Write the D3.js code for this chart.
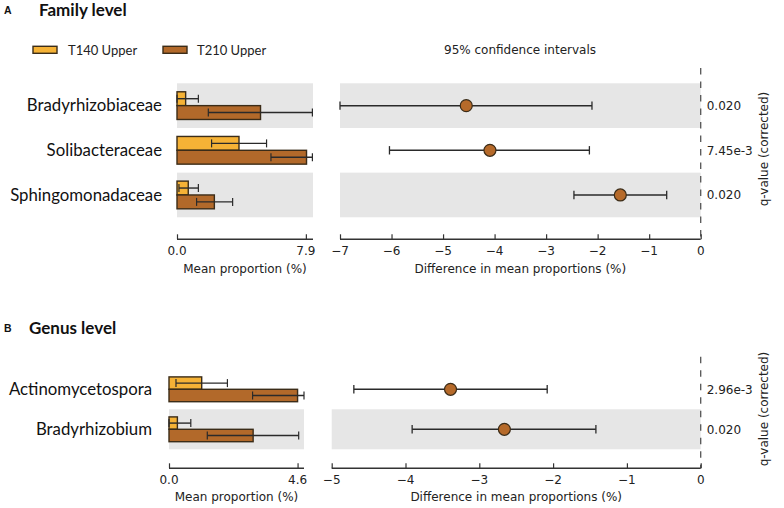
<!DOCTYPE html>
<html><head><meta charset="utf-8">
<script src="https://cdn.jsdelivr.net/npm/d3@7"></script>
<style>
html,body{margin:0;padding:0;background:#fff;}
svg{display:block;}
</style></head>
<body>
<script>
// ---------- DATA ----------
const seriesNames = ["T140 Upper", "T210 Upper"];

const familyCategories = ["Bradyrhizobiaceae", "Solibacteraceae", "Sphingomonadaceae"];
const familyT140Mean = [0.53, 3.80, 0.69];
const familyT140Lo   = [0.00, 2.12, 0.12];
const familyT140Hi   = [1.31, 5.49, 1.31];
const familyT210Mean = [5.12, 7.94, 2.29];
const familyT210Lo   = [1.92, 5.76, 1.20];
const familyT210Hi   = [8.30, 8.30, 3.41];
const familyDiff     = [-4.55, -4.09, -1.56];
const familyDiffLo   = [-7.00, -6.04, -2.46];
const familyDiffHi   = [-2.11, -2.16, -0.66];
const familyQ        = ["0.020", "7.45e-3", "0.020"];
const familyBarTicks = [0, 7.9];
const familyDiffTicks = [-7, -6, -5, -4, -3, -2, -1, 0];

const genusCategories = ["Actinomycetospora", "Bradyrhizobium"];
const genusT140Mean = [1.17, 0.30];
const genusT140Lo   = [0.25, 0.00];
const genusT140Hi   = [2.09, 0.78];
const genusT210Mean = [4.60, 3.01];
const genusT210Lo   = [2.99, 1.37];
const genusT210Hi   = [4.83, 4.64];
const genusDiff     = [-3.39, -2.66];
const genusDiffLo   = [-4.70, -3.91];
const genusDiffHi   = [-2.08, -1.42];
const genusQ        = ["2.96e-3", "0.020"];
const genusBarTicks = [0, 4.6];
const genusDiffTicks = [-5, -4, -3, -2, -1, 0];

// ---------- STYLE ----------
const C140 = "#F5B236", C210 = "#B2692A", CPT = "#B66A2A";
const EDGE = "#3b2c18", LINE = "#2a2a2a", GREY = "#E6E6E6", AX = "#333";
const LABEL_FONT = "Lato, 'Open Sans', sans-serif";
const AXIS_FONT = "'DejaVu Sans', sans-serif";
const AXIS_SIZE = 12;

const svg = d3.select("body").append("svg").attr("width", 784).attr("height", 508);

// headers
function header(x, y, letter, tx, title) {
  svg.append("text").attr("x", x).attr("y", y).text(letter)
    .attr("font-family", "'Liberation Sans', Arial, sans-serif").attr("font-weight", "bold")
    .attr("font-size", 10.5).attr("fill", "#111");
  svg.append("text").attr("x", tx).attr("y", y + 2.5).text(title)
    .attr("font-family", LABEL_FONT).attr("font-weight", "bold")
    .attr("font-size", 17).attr("fill", "#111");
}
header(4, 13.8, "A", 39, "Family level");
header(4, 331.5, "B", 29, "Genus level");

// legend
const legend = [{x: 33, tx: 68, c: C140}, {x: 163, tx: 197, c: C210}];
legend.forEach((l, i) => {
  svg.append("rect").attr("x", l.x).attr("y", 46.3).attr("width", 24).attr("height", 7)
    .attr("fill", l.c).attr("stroke", EDGE).attr("stroke-width", 1.4);
  svg.append("text").attr("x", l.tx).attr("y", 54.6).text(seriesNames[i])
    .attr("font-family", LABEL_FONT).attr("font-size", 13).attr("fill", "#222");
});

svg.append("text").attr("x", 520).attr("y", 53.5).attr("text-anchor", "middle")
  .text("95% confidence intervals")
  .attr("font-family", AXIS_FONT).attr("font-size", AXIS_SIZE).attr("fill", "#222");

function drawPanel(cfg) {
  const n = cfg.cats.length;
  const y = d3.scaleBand().domain(d3.range(n)).range([cfg.top, cfg.bottom]).padding(0);
  const maxMean = d3.max(cfg.m140.concat(cfg.m210));
  const xb = d3.scaleLinear().domain([0, maxMean * 1.05]).range([cfg.barLeft, cfg.barRight]).clamp(true);
  const xd = d3.scaleLinear().domain([cfg.diffTicks[0], 0]).range([cfg.diffLeft, cfg.diffRight]).clamp(true);
  const half = y.bandwidth() * 0.31;
  const g = svg.append("g");

  // shaded rows (alternate from bottom)
  d3.range(n).forEach(i => {
    if ((n - 1 - i) % 2 === 0) {
      g.append("rect").attr("x", xb.range()[0]).attr("y", y(i))
        .attr("width", xb.range()[1] - xb.range()[0]).attr("height", y.bandwidth()).attr("fill", GREY);
      g.append("rect").attr("x", xd.range()[0]).attr("y", y(i))
        .attr("width", xd.range()[1] - xd.range()[0]).attr("height", y.bandwidth()).attr("fill", GREY);
    }
  });

  // category labels
  cfg.cats.forEach((c, i) => {
    g.append("text").attr("x", cfg.labelRight).attr("y", y(i) + y.bandwidth() / 2 + 5.8)
      .attr("text-anchor", "end").text(c)
      .attr("font-family", LABEL_FONT).attr("font-size", cfg.labelSize).attr("fill", "#111");
  });

  // bars + error bars
  const series = [
    {m: cfg.m140, lo: cfg.lo140, hi: cfg.hi140, c: C140, off: -half},
    {m: cfg.m210, lo: cfg.lo210, hi: cfg.hi210, c: C210, off: 0}
  ];
  series.forEach(s => {
    s.m.forEach((v, i) => {
      const cy = y(i) + y.bandwidth() / 2;
      g.append("rect").attr("x", xb(0)).attr("y", cy + s.off)
        .attr("width", xb(v) - xb(0)).attr("height", half)
        .attr("fill", s.c).attr("stroke", EDGE).attr("stroke-width", 1.4);
      const ey = cy + s.off + half / 2;
      const x1 = xb(s.lo[i]), x2 = xb(s.hi[i]);
      g.append("line").attr("x1", x1).attr("x2", x2).attr("y1", ey).attr("y2", ey)
        .attr("stroke", LINE).attr("stroke-width", 1.4);
      [x1, x2].forEach(xx => g.append("line").attr("x1", xx).attr("x2", xx)
        .attr("y1", ey - 4).attr("y2", ey + 4).attr("stroke", LINE).attr("stroke-width", 1.2));
    });
  });

  // CI
  cfg.diff.forEach((v, i) => {
    const cy = y(i) + y.bandwidth() / 2;
    const x1 = xd(cfg.dlo[i]), x2 = xd(cfg.dhi[i]);
    g.append("line").attr("x1", x1).attr("x2", x2).attr("y1", cy).attr("y2", cy)
      .attr("stroke", LINE).attr("stroke-width", 1.5);
    [x1, x2].forEach(xx => g.append("line").attr("x1", xx).attr("x2", xx)
      .attr("y1", cy - 4.2).attr("y2", cy + 4.2).attr("stroke", LINE).attr("stroke-width", 1.3));
    g.append("circle").attr("cx", xd(v)).attr("cy", cy).attr("r", 6)
      .attr("fill", CPT).attr("stroke", EDGE).attr("stroke-width", 1.2);
    g.append("text").attr("x", cfg.diffRight + 6).attr("y", cy + 4.3).text(cfg.q[i])
      .attr("font-family", AXIS_FONT).attr("font-size", AXIS_SIZE).attr("fill", "#222");
  });

  // dashed zero line
  g.append("line").attr("x1", xd(0)).attr("x2", xd(0)).attr("y1", cfg.dashTop).attr("y2", cfg.axisY)
    .attr("stroke", "#555").attr("stroke-width", 1.3).attr("stroke-dasharray", "6.5,7");

  // axes
  function axis(scale, ticks, fmt, ext) {
    const ag = g.append("g").attr("transform", `translate(0,${cfg.axisY})`);
    const ax = d3.axisTop(scale).tickValues(ticks).tickSize(5).tickFormat(() => "");
    ag.call(ax);
    ag.select(".domain").remove();
    ag.append("line").attr("x1", ext[0]).attr("x2", ext[1]).attr("stroke", AX).attr("stroke-width", 1.5);
    ag.selectAll(".tick line").attr("stroke", AX).attr("stroke-width", 1.2);
    ticks.forEach(t => ag.append("text").attr("x", scale(t)).attr("y", cfg.tickDY)
      .attr("text-anchor", "middle").text(fmt(t))
      .attr("font-family", AXIS_FONT).attr("font-size", AXIS_SIZE).attr("fill", "#222"));
  }
  axis(xb, cfg.barTicks, d3.format(".1f"), xb.range());
  axis(xd, cfg.diffTicks, t => t < 0 ? "\u2212" + Math.abs(t) : String(t), xd.range());

  g.append("text").attr("x", (xb.range()[0] + xb.range()[1]) / 2).attr("y", cfg.axisY + cfg.titleDY)
    .attr("text-anchor", "middle").text("Mean proportion (%)")
    .attr("font-family", AXIS_FONT).attr("font-size", AXIS_SIZE).attr("fill", "#222");
  g.append("text").attr("x", (xd.range()[0] + xd.range()[1]) / 2).attr("y", cfg.axisY + cfg.titleDY)
    .attr("text-anchor", "middle").text("Difference in mean proportions (%)")
    .attr("font-family", AXIS_FONT).attr("font-size", AXIS_SIZE).attr("fill", "#222");

  g.append("text").attr("transform", `translate(768,${cfg.qMid}) rotate(-90)`)
    .attr("text-anchor", "middle").text("q-value (corrected)")
    .attr("font-family", AXIS_FONT).attr("font-size", AXIS_SIZE).attr("fill", "#222");
}

drawPanel({
  cats: familyCategories, top: 83.3, bottom: 217.3,
  m140: familyT140Mean, lo140: familyT140Lo, hi140: familyT140Hi,
  m210: familyT210Mean, lo210: familyT210Lo, hi210: familyT210Hi,
  diff: familyDiff, dlo: familyDiffLo, dhi: familyDiffHi, q: familyQ,
  barTicks: familyBarTicks, diffTicks: familyDiffTicks,
  barLeft: 177, barRight: 313, diffLeft: 340, diffRight: 700.7,
  labelRight: 162, labelSize: 16.8, axisY: 239.3, tickDY: 15.5, titleDY: 34,
  dashTop: 68, qMid: 149
});

drawPanel({
  cats: genusCategories, top: 369.3, bottom: 449.3,
  m140: genusT140Mean, lo140: genusT140Lo, hi140: genusT140Hi,
  m210: genusT210Mean, lo210: genusT210Lo, hi210: genusT210Hi,
  diff: genusDiff, dlo: genusDiffLo, dhi: genusDiffHi, q: genusQ,
  barTicks: genusBarTicks, diffTicks: genusDiffTicks,
  barLeft: 169, barRight: 304, diffLeft: 331.7, diffRight: 700.7,
  labelRight: 152, labelSize: 16.8, axisY: 468.3, tickDY: 16, titleDY: 33,
  dashTop: 356.7, qMid: 409
});
</script>
</body></html>
